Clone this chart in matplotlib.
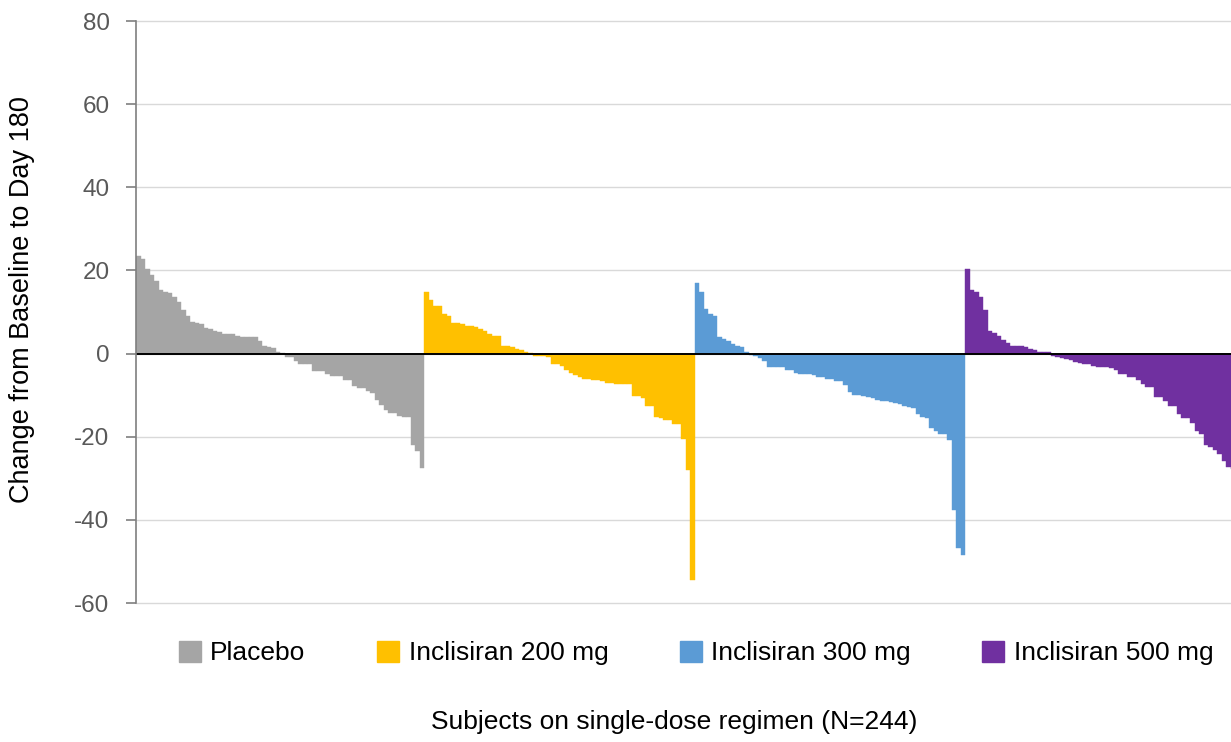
import numpy as np
import matplotlib
matplotlib.use("Agg")
import matplotlib.pyplot as plt
from matplotlib.patches import Patch

plt.rcParams['font.family'] = ['Liberation Sans', 'DejaVu Sans']

# values, sorted as in the waterfall
placebo = [23.5, 22.8, 20.4, 19.0, 17.4, 15.2, 14.8, 14.5, 13.6, 12.4,
           10.6, 9.0, 7.5, 7.4, 7.0, 6.2, 5.8, 5.4, 5.2, 4.8,
           4.8, 4.7, 4.2, 3.9, 3.9, 3.9, 3.9, 3.0, 1.8, 1.5,
           1.4, 0.3, 0.2, -0.8, -0.9, -1.8, -2.4, -2.4, -2.5, -4.3,
           -4.3, -4.3, -4.8, -5.5, -5.5, -5.5, -6.3, -6.3, -7.7, -8.3,
           -8.3, -9.1, -9.5, -11.2, -12.3, -13.5, -14.3, -14.3, -15.1, -15.3,
           -15.3, -21.9, -23.5, -27.5]
incl200 = [14.8, 13.0, 11.4, 11.4, 9.6, 9.0, 7.4, 7.4, 7.2, 6.6,
           6.6, 6.5, 5.9, 5.4, 4.8, 4.3, 4.3, 1.9, 1.9, 1.5,
           1.0, 0.9, 0.3, 0.1, -0.5, -0.5, -0.6, -0.8, -2.4, -2.5,
           -3.1, -4.0, -4.7, -5.2, -5.7, -6.1, -6.2, -6.4, -6.4, -6.5,
           -7.1, -7.1, -7.2, -7.3, -7.3, -7.4, -10.1, -10.2, -10.7, -12.5,
           -12.6, -15.3, -15.4, -15.9, -16.0, -16.9, -17.0, -20.6, -28.0, -54.5]
incl300 = [17.0, 14.8, 10.8, 9.6, 9.0, 3.9, 3.4, 3.1, 2.4, 1.9,
           1.6, 0.3, -0.3, -0.6, -1.0, -1.8, -3.2, -3.2, -3.3, -3.3,
           -3.9, -3.9, -4.7, -5.0, -5.0, -5.0, -5.1, -5.6, -5.7, -6.1,
           -6.1, -6.5, -6.6, -7.5, -9.3, -9.9, -10.0, -10.3, -10.4, -10.7,
           -11.2, -11.3, -11.5, -11.6, -12.0, -12.1, -12.7, -12.8, -13.1, -14.5,
           -15.3, -15.4, -17.9, -18.7, -19.3, -19.4, -20.9, -37.6, -46.8, -48.4]
incl500 = [20.4, 15.4, 14.9, 13.6, 10.4, 5.5, 5.0, 4.2, 3.2, 2.6,
           1.9, 1.9, 1.8, 1.6, 1.0, 0.9, 0.4, 0.4, 0.3, -0.5,
           -0.9, -1.0, -1.4, -1.5, -2.1, -2.2, -2.4, -2.5, -3.1, -3.2,
           -3.3, -3.3, -3.4, -3.9, -4.8, -4.9, -5.6, -5.7, -6.4, -7.2,
           -8.0, -8.1, -10.4, -10.5, -11.5, -12.5, -12.6, -14.5, -15.5, -15.6,
           -16.7, -18.6, -19.3, -21.9, -22.5, -23.1, -24.1, -25.9, -27.3, -27.8]

groups = ['Placebo', 'Inclisiran 200 mg', 'Inclisiran 300 mg', 'Inclisiran 500 mg']
colors = ['#A5A5A5', '#FFC000', '#5B9BD5', '#7030A0']
yticks = [-60, -40, -20, 0, 20, 40, 60, 80]

fig = plt.figure(figsize=(12.31, 7.42), dpi=100)
ax = fig.add_axes([136 / 1231, 1 - 603 / 742, 1 - 136 / 1231, (603 - 21) / 742])

start = 0
for vals, col in zip([placebo, incl200, incl300, incl500], colors):
    x = np.arange(start, start + len(vals))
    ax.bar(x, vals, width=1.0, color=col, edgecolor=col, linewidth=0.3, zorder=2)
    start += len(vals)

ax.set_xlim(-0.5, 242.5)
ax.set_ylim(-60, 80)
ax.set_yticks(yticks)
ax.set_yticklabels([str(t) for t in yticks])
ax.set_xticks([])
ax.yaxis.grid(True, color='#D9D9D9', linewidth=1.0, zorder=0)
ax.set_axisbelow(True)
for gl in ax.get_ygridlines():
    gl.set_clip_on(False)
ax.axhline(0, color='black', linewidth=1.4, zorder=3)

for s in ['top', 'right', 'bottom']:
    ax.spines[s].set_visible(False)
ax.spines['left'].set_color('#7F7F7F')
ax.spines['left'].set_linewidth(1.2)
ax.spines['left'].set_zorder(4)
ax.tick_params(axis='y', direction='out', length=7, width=1.2, color='#7F7F7F',
               labelcolor='#595959', labelsize=17.5, pad=12)

fig.text(0.018, 1 - 300 / 742, 'Change from Baseline to Day 180', rotation=90,
         ha='center', va='center', fontsize=19.5, color='black')
fig.text(674 / 1231, 1 - 722 / 742, 'Subjects on single-dose regimen (N=244)',
         ha='center', va='center', fontsize=19, color='black')

handles = [Patch(facecolor=c, edgecolor=c) for c in colors]
fig.legend(handles, groups, loc='center', bbox_to_anchor=(696 / 1231, 1 - 653 / 742),
           ncol=4, frameon=False, fontsize=19, handlelength=0.85, handleheight=0.85,
           handletextpad=0.35, columnspacing=2.7, borderpad=0)

fig.savefig('out.png', dpi=100)
